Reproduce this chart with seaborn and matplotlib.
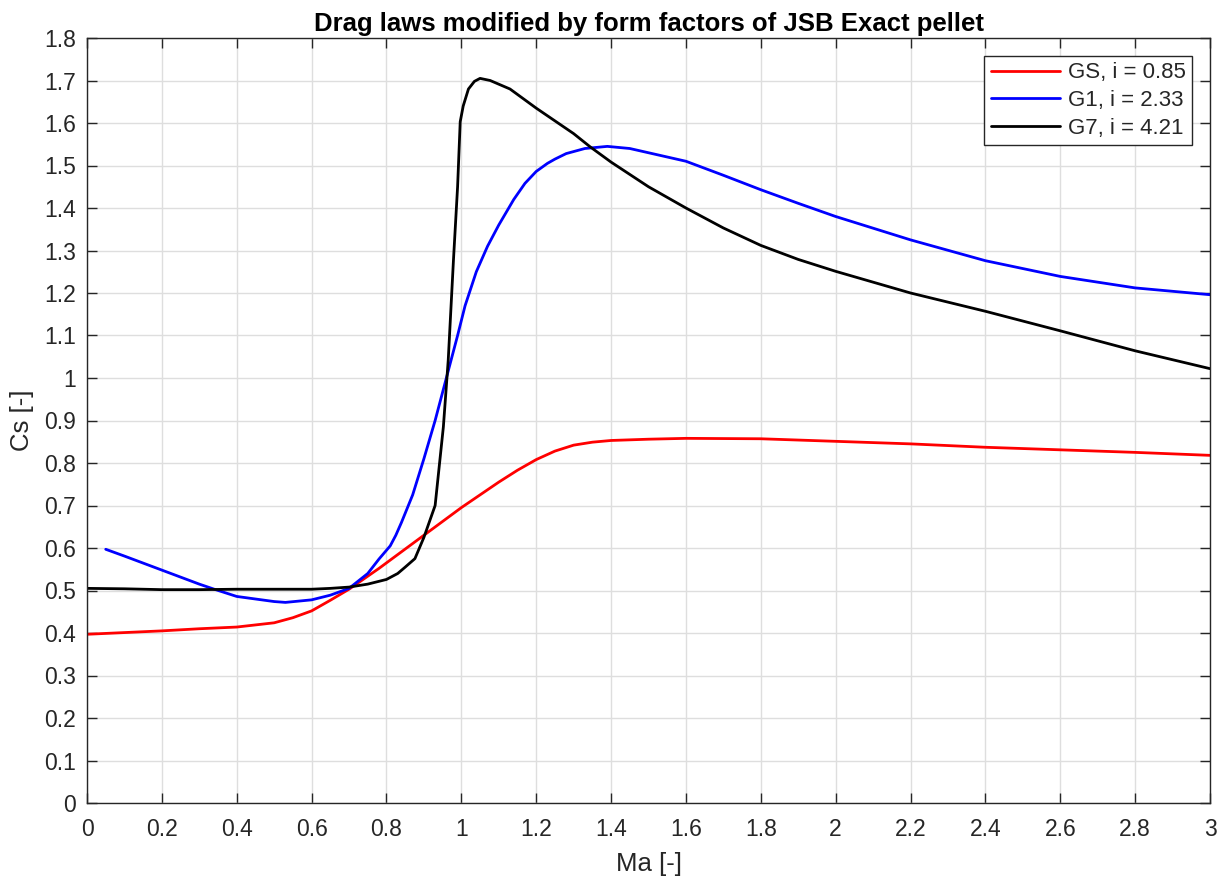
import matplotlib
matplotlib.use("Agg")
import matplotlib.pyplot as plt
import seaborn as sns
import pandas as pd
from matplotlib.ticker import MultipleLocator, FuncFormatter

# ---- data ----
gs_ma = [0, 0.1, 0.2, 0.3, 0.4, 0.5, 0.55, 0.6, 0.65, 0.7, 0.78, 0.8, 0.9, 1.0, 1.1, 1.15,
         1.2, 1.25, 1.3, 1.35, 1.4, 1.5, 1.6, 1.8, 2.0, 2.2, 2.4, 2.6, 2.8, 3.0]
gs_cs = [0.397, 0.401, 0.405, 0.41, 0.414, 0.424, 0.436, 0.452, 0.477, 0.503, 0.552, 0.565,
         0.63, 0.695, 0.755, 0.783, 0.808, 0.828, 0.842, 0.849, 0.853, 0.856, 0.858, 0.857,
         0.851, 0.845, 0.837, 0.831, 0.825, 0.818]

g1_ma = [0.05, 0.1, 0.2, 0.3, 0.34, 0.4, 0.5, 0.53, 0.6, 0.65, 0.7, 0.75, 0.78, 0.81,
         0.825, 0.84, 0.87, 0.9, 0.93, 0.96, 0.99, 1.01, 1.04, 1.07, 1.1, 1.14, 1.17, 1.2,
         1.23, 1.25, 1.28, 1.33, 1.39, 1.45, 1.5, 1.6, 1.7, 1.8, 1.9, 2.0, 2.2, 2.4, 2.6,
         2.8, 3.0]
g1_cs = [0.597, 0.581, 0.548, 0.515, 0.503, 0.486, 0.474, 0.472, 0.478, 0.489, 0.505,
         0.54, 0.574, 0.605, 0.63, 0.66, 0.725, 0.81, 0.90, 1.0, 1.1, 1.17, 1.25, 1.31,
         1.36, 1.42, 1.458, 1.486, 1.505, 1.515, 1.528, 1.54, 1.545, 1.54, 1.53, 1.51,
         1.477, 1.443, 1.411, 1.38, 1.325, 1.276, 1.239, 1.212, 1.196]

g7_ma = [0, 0.1, 0.2, 0.3, 0.4, 0.5, 0.6, 0.65, 0.7, 0.75, 0.8, 0.83, 0.85, 0.876, 0.9,
         0.93, 0.952, 0.965, 0.979, 0.99, 0.997, 1.005, 1.019, 1.035, 1.05, 1.077, 1.13,
         1.2, 1.3, 1.344, 1.4, 1.5, 1.6, 1.7, 1.8, 1.9, 2.0, 2.2, 2.4, 2.6, 2.8, 3.0]
g7_cs = [0.505, 0.504, 0.502, 0.502, 0.503, 0.503, 0.503, 0.505, 0.508, 0.515, 0.526,
         0.54, 0.555, 0.575, 0.625, 0.70, 0.885, 1.042, 1.278, 1.45, 1.603, 1.64, 1.68,
         1.698, 1.705, 1.70, 1.68, 1.635, 1.575, 1.544, 1.508, 1.45, 1.40, 1.353, 1.312,
         1.279, 1.251, 1.2, 1.157, 1.111, 1.064, 1.022]

labels = ["GS, i = 0.85", "G1, i = 2.33", "G7, i = 4.21"]
colors = ["#ff0000", "#0000ff", "#000000"]

title = "Drag laws modified by form factors of JSB Exact pellet"
xlabel = "Ma [-]"
ylabel = "Cs [-]"

df = pd.concat([
    pd.DataFrame({"Ma": gs_ma, "Cs": gs_cs, "law": labels[0]}),
    pd.DataFrame({"Ma": g1_ma, "Cs": g1_cs, "law": labels[1]}),
    pd.DataFrame({"Ma": g7_ma, "Cs": g7_cs, "law": labels[2]}),
], ignore_index=True)

sns.set_theme(style="whitegrid")
plt.rcParams["font.family"] = ["Liberation Sans", "DejaVu Sans"]

fig = plt.figure(figsize=(12.22, 8.81), dpi=100)
ax = fig.add_axes([87 / 1222, 1 - 803 / 881, (1210 - 87) / 1222, (803 - 38) / 881])

sns.lineplot(data=df, x="Ma", y="Cs", hue="law", palette=colors, hue_order=labels,
             estimator=None, sort=False, linewidth=2.0, ax=ax)

ax.set_xlim(0, 3)
ax.set_ylim(0, 1.8)
ax.xaxis.set_major_locator(MultipleLocator(0.2))
ax.yaxis.set_major_locator(MultipleLocator(0.1))
fmt = FuncFormatter(lambda v, p: ("%.1f" % v).rstrip("0").rstrip(".") if abs(v) > 1e-9 else "0")
ax.xaxis.set_major_formatter(fmt)
ax.yaxis.set_major_formatter(fmt)

ax.grid(True, color="#dedede", linewidth=1.0)
for s in ax.spines.values():
    s.set_visible(True)
    s.set_color("#262626")
    s.set_linewidth(1.0)
ax.tick_params(direction="in", length=7, width=1, colors="#262626",
               labelsize=16.5, top=True, right=True, bottom=True, left=True,
               labelcolor="#262626")
ax.tick_params(axis="x", pad=11)
ax.tick_params(axis="y", pad=8)

ax.set_xlabel(xlabel, fontsize=18.5, color="#262626", labelpad=8)
ax.set_ylabel(ylabel, fontsize=18.5, color="#262626", labelpad=7)
ax.set_title(title, fontsize=18.5, fontweight="bold", color="black", pad=5)

leg = ax.legend(loc="upper right", fontsize=16, frameon=True, fancybox=False,
                edgecolor="#262626", framealpha=1, handlelength=3.1,
                borderaxespad=0.8, labelspacing=0.3, handletextpad=0.35,
                borderpad=0.3)
leg.get_frame().set_linewidth(1.0)
for t in leg.get_texts():
    t.set_color("#262626")

fig.savefig("out.png", dpi=100)
